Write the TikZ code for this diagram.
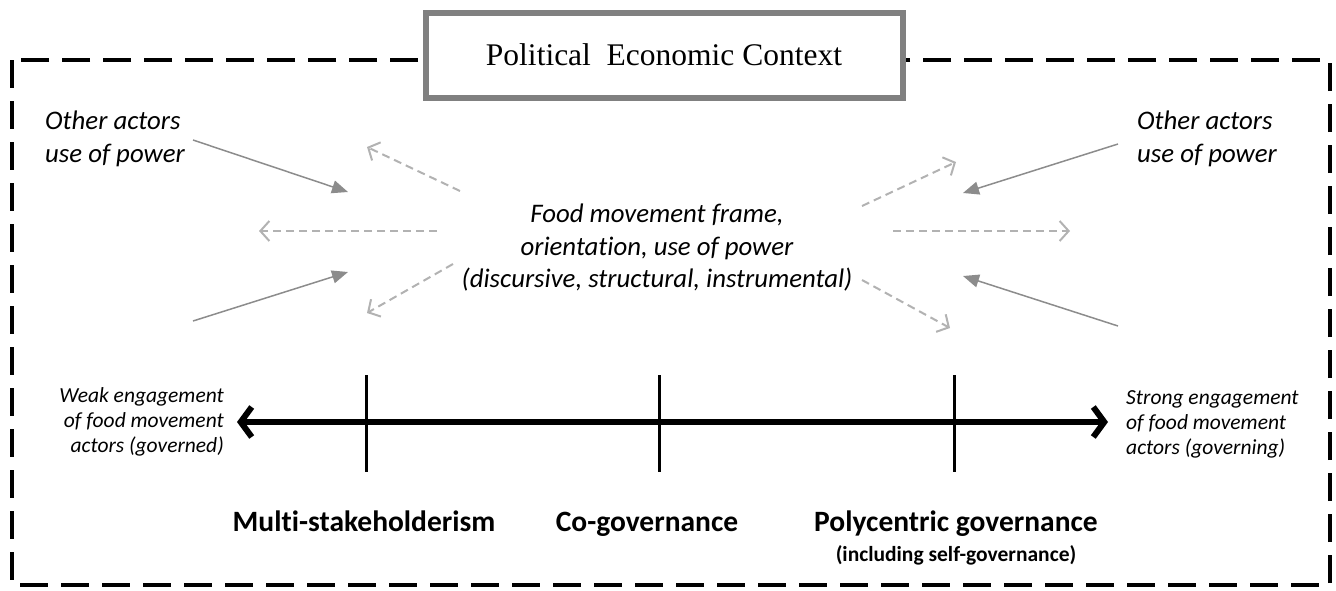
\documentclass[tikz,border=0pt]{standalone}
\usepackage{fontspec}
\setmainfont{Carlito}[Ligatures=NoCommon]
\newfontfamily\timesfont{Liberation Serif}
\usetikzlibrary{arrows.meta,positioning}
\definecolor{boxgray}{RGB}{128,128,128}
\definecolor{powergray}{RGB}{140,140,140}
\definecolor{framegray}{RGB}{178,178,178}
\tikzset{
  context/.style={draw=boxgray, line width=6pt, fill=white, minimum width=477pt, minimum height=85pt, inner sep=0pt, font=\timesfont\fontsize{31.5}{38}\selectfont},
  outer/.style={draw, line width=4pt, dash pattern=on 28pt off 13pt},
  actor/.style={font=\itshape\fontsize{26.8}{32.5}\selectfont, inner sep=0pt},
  engage/.style={font=\itshape\fontsize{21.5}{25}\selectfont, inner sep=0pt},
  mode/.style={font=\bfseries\fontsize{29.5}{34}\selectfont, inner sep=0pt, anchor=base},
  power/.style={draw=powergray, line width=1.5pt, -{Triangle[length=16pt,width=13pt]}},
  movement/.style={draw=framegray, line width=2pt, dash pattern=on 8pt off 5pt, -{Straight Barb[length=9pt,width=20pt,line width=2pt]}},
  axis/.style={line width=6pt, {Straight Barb[length=11pt,width=30pt,line width=6pt]}-{Straight Barb[length=11pt,width=30pt,line width=6pt]}},
  tick/.style={line width=3pt}
}

\begin{document}
\begin{tikzpicture}[x=1pt, y=-1pt]
\useasboundingbox (0,0) rectangle (1336,590);

% outer dashed frame and title
\draw[outer] (12,60) rectangle (1330,585);
\node[context] (pec) at (664,55) {Political\ \ Economic Context};

% food movement and other actors
\node[actor, align=center] (food) at (657,248) {Food movement frame,\\orientation, use of power\\(discursive, structural, instrumental)};
\node[actor, align=left, anchor=west] (otherL) at (45,139) {Other actors\\use of power};
\node[actor, align=left, anchor=west] (otherR) at (1137,139) {Other actors\\use of power};

\coordinate (pL1s) at (193,140);  \coordinate (pL1e) at (348,192);
\coordinate (pL2s) at (193,321);  \coordinate (pL2e) at (348,272);
\coordinate (pR1s) at (1118,144); \coordinate (pR1e) at (963,193);
\coordinate (pR2s) at (1118,326); \coordinate (pR2e) at (963,276);
\draw[power] (pL1s) -- (pL1e);
\draw[power] (pL2s) -- (pL2e);
\draw[power] (pR1s) -- (pR1e);
\draw[power] (pR2s) -- (pR2e);

\coordinate (fL1s) at (460,191); \coordinate (fL1e) at (367,147);
\coordinate (fL2s) at (437,231); \coordinate (fL2e) at (259,231);
\coordinate (fL3s) at (453,264); \coordinate (fL3e) at (367,313);
\coordinate (fR1s) at (862,206); \coordinate (fR1e) at (956,162);
\coordinate (fR2s) at (893,231); \coordinate (fR2e) at (1070,231);
\coordinate (fR3s) at (862,280); \coordinate (fR3e) at (950,328);
\draw[movement] (fL1s) -- (fL1e);
\draw[movement] (fL2s) -- (fL2e);
\draw[movement] (fL3s) -- (fL3e);
\draw[movement] (fR1s) -- (fR1e);
\draw[movement] (fR2s) -- (fR2e);
\draw[movement] (fR3s) -- (fR3e);

% engagement axis
\coordinate (weakEnd) at (237,422);
\coordinate (strongEnd) at (1108,422);
\draw[axis] (weakEnd) -- (strongEnd);
\node[engage, align=right, anchor=east] (weak) at (224,422) {Weak engagement\\of food movement\\actors (governed)};
\node[engage, align=left, anchor=west] (strong) at (1126,424) {Strong engagement\\of food movement\\actors (governing)};

\foreach \x/\name in {366/multi, 659/co, 954/poly}
  \draw[tick] (\x,375) coordinate (\name top) -- (\x,472) coordinate (\name bot);

\node[mode] (multi) at (364,531) {Multi-stakeholderism};
\node[mode] (co) at (647,531) {Co-governance};
\node[mode] (poly) at (956,531) {Polycentric governance};
\node[mode, font=\bfseries\fontsize{21.5}{24}\selectfont] (self) at (956,561) {(including self-governance)};
\end{tikzpicture}
\end{document}
